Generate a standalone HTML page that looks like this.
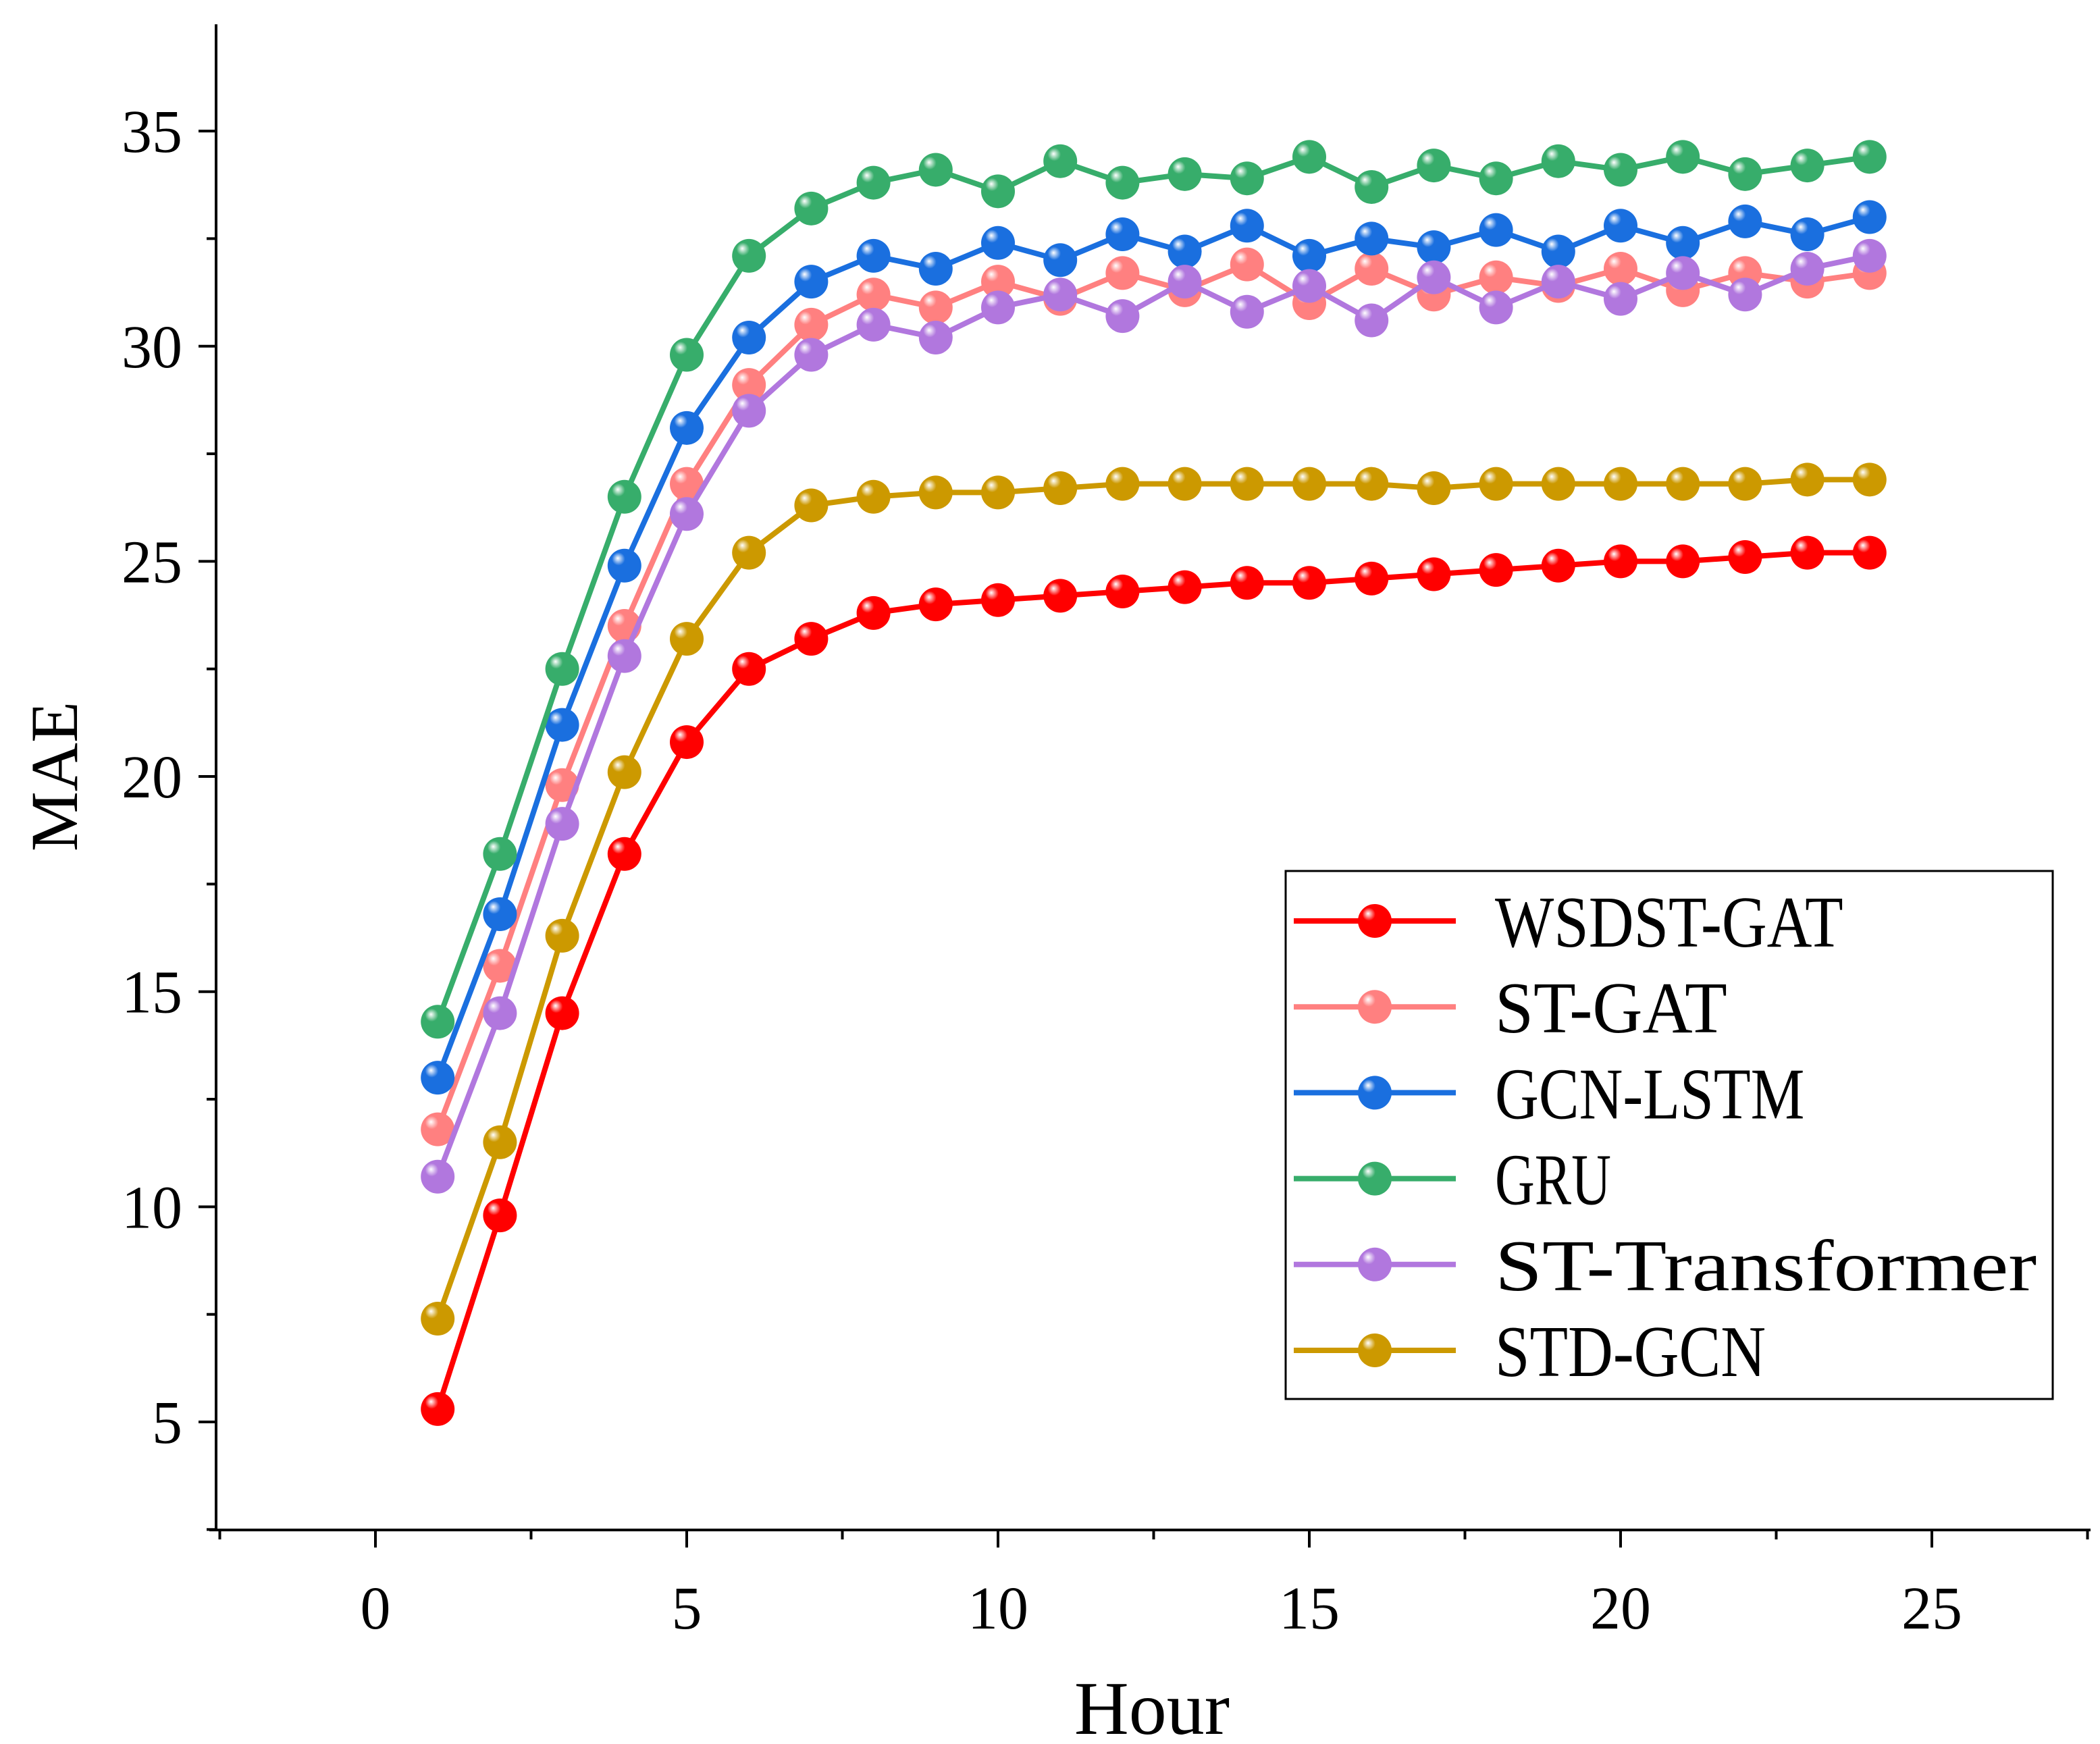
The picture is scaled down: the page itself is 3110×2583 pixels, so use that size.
<!DOCTYPE html>
<html><head><meta charset="utf-8"><style>html,body{margin:0;padding:0;background:#fff}svg{display:block}</style></head>
<body>
<svg id="chart" width="3110" height="2583" viewBox="0 0 3110 2583" xmlns="http://www.w3.org/2000/svg">
<defs id="defs"></defs>
<g id="axes"></g>
<g id="series"></g>
<g id="legend"></g>
</svg>
<script>
const hours = [1,2,3,4,5,6,7,8,9,10,11,12,13,14,15,16,17,18,19,20,21,22,23,24];
const seriesNames = ["WSDST-GAT","ST-GAT","GCN-LSTM","GRU","ST-Transformer","STD-GCN"];
const wsdstGat = [5.3,9.8,14.5,18.2,20.8,22.5,23.2,23.8,24.0,24.1,24.2,24.3,24.4,24.5,24.5,24.6,24.7,24.8,24.9,25.0,25.0,25.1,25.2,25.2];
const stGat = [11.8,15.6,19.8,23.5,26.8,29.1,30.5,31.2,30.9,31.5,31.1,31.7,31.3,31.9,31.0,31.8,31.2,31.6,31.4,31.8,31.3,31.7,31.5,31.7];
const gcnLstm = [13.0,16.8,21.2,24.9,28.1,30.2,31.5,32.1,31.8,32.4,32.0,32.6,32.2,32.8,32.1,32.5,32.3,32.7,32.2,32.8,32.4,32.9,32.6,33.0];
const gru = [14.3,18.2,22.5,26.5,29.8,32.1,33.2,33.8,34.1,33.6,34.3,33.8,34.0,33.9,34.4,33.7,34.2,33.9,34.3,34.1,34.4,34.0,34.2,34.4];
const stTransformer = [10.7,14.5,18.9,22.8,26.1,28.5,29.8,30.5,30.2,30.9,31.2,30.7,31.5,30.8,31.4,30.6,31.6,30.9,31.5,31.1,31.7,31.2,31.8,32.1];
const stdGcn = [7.4,11.5,16.3,20.1,23.2,25.2,26.3,26.5,26.6,26.6,26.7,26.8,26.8,26.8,26.8,26.8,26.7,26.8,26.8,26.8,26.8,26.8,26.9,26.9];
const xTicks = [0,5,10,15,20,25];
const yTicks = [5,10,15,20,25,30,35];

const allSeries = [wsdstGat, stGat, gcnLstm, gru, stTransformer, stdGcn];
const colors = ["#ff0000","#ff8080","#1a6fdf","#37ad6b","#b177de","#cc9900"];
const NS = "http://www.w3.org/2000/svg";
const X = v => 556 + v*92.2;
const Y = v => 2106 - (v-5)*63.73;
function mk(tag, attrs, parent){const e=document.createElementNS(NS,tag);for(const k in attrs)e.setAttribute(k,attrs[k]);parent.appendChild(e);return e;}
const defs=document.getElementById('defs'), axes=document.getElementById('axes'), ser=document.getElementById('series'), leg=document.getElementById('legend');
colors.forEach((c,i)=>{
  const g=mk('radialGradient',{id:'g'+i,cx:'0.38',cy:'0.35',r:'0.65',fx:'0.3',fy:'0.28'},defs);
  mk('stop',{offset:'0','stop-color':'#ffffff'},g);
  mk('stop',{offset:'0.3','stop-color':c},g);
  mk('stop',{offset:'1','stop-color':c},g);
});
const font='"Liberation Serif", "Noto Serif CJK SC", serif';
let e=mk('line',{x1:320,y1:36,x2:320,y2:2266,stroke:'#000','stroke-width':4},axes);

e=mk('line',{x1:310,y1:2266,x2:3096,y2:2266,stroke:'#000','stroke-width':4},axes);

for(let v=-2.5; v<=27.5; v+=2.5){
  const major = Math.abs(v%5)<1e-9;
  mk('line',{x1:X(v),y1:2266,x2:X(v),y2:2266+(major?26:14),stroke:'#000','stroke-width':4},axes);
}
xTicks.forEach(t=>{
  const el=mk('text',{x:X(t),y:2412,'font-size':90,'font-family':font,'text-anchor':'middle'},axes);
  el.textContent=t;
  
  
});
for(let v=2.5; v<=37.5; v+=2.5){
  const major = Math.abs(v%5)<1e-9;
  if(Y(v)<36) continue;
  mk('line',{x1:320,y1:Y(v),x2:320-(major?26:14),y2:Y(v),stroke:'#000','stroke-width':4},axes);
}
yTicks.forEach(t=>{
  const el=mk('text',{x:270,y:Y(t)+31,'font-size':90,'font-family':font,'text-anchor':'end'},axes);
  el.textContent=t;
  
  
});
e=mk('text',{x:1706,y:2568,'font-size':112,'font-family':font,'text-anchor':'middle'},axes);
e.textContent='Hour';


e=mk('text',{x:0,y:0,'font-size':100,'font-family':font,'text-anchor':'middle',transform:'translate(114,1150) rotate(-90)'},axes);
e.textContent='MAE';


allSeries.forEach((d,i)=>{
  const g=mk('g',{},ser);
  
  
  const pl=mk('polyline',{points:d.map((v,j)=>X(hours[j])+','+Y(v)).join(' '),fill:'none',stroke:colors[i],'stroke-width':8,'stroke-linejoin':'round'},g);
  
  
  d.forEach((v,j)=>{
    const c=mk('circle',{cx:X(hours[j]),cy:Y(v),r:25,fill:'url(#g'+i+')'},g);
    
    
  });
});
e=mk('rect',{x:1904,y:1290,width:1136,height:782,fill:'#fff',stroke:'#000','stroke-width':3},leg);


seriesNames.forEach((n,i)=>{
  const y=1364+i*127.2;
  const g=mk('g',{},leg);
  
  
  mk('line',{x1:1916,y1:y,x2:2156,y2:y,stroke:colors[i],'stroke-width':8},g);
  mk('circle',{cx:2036,cy:y,r:25,fill:'url(#g'+i+')'},g);
  const t=mk('text',{x:2214,y:y+38,'font-size':108,'font-family':font,textLength:n.length*57.3,lengthAdjust:'spacingAndGlyphs'},g);
  t.textContent=n;
});
</script>
</body></html>
